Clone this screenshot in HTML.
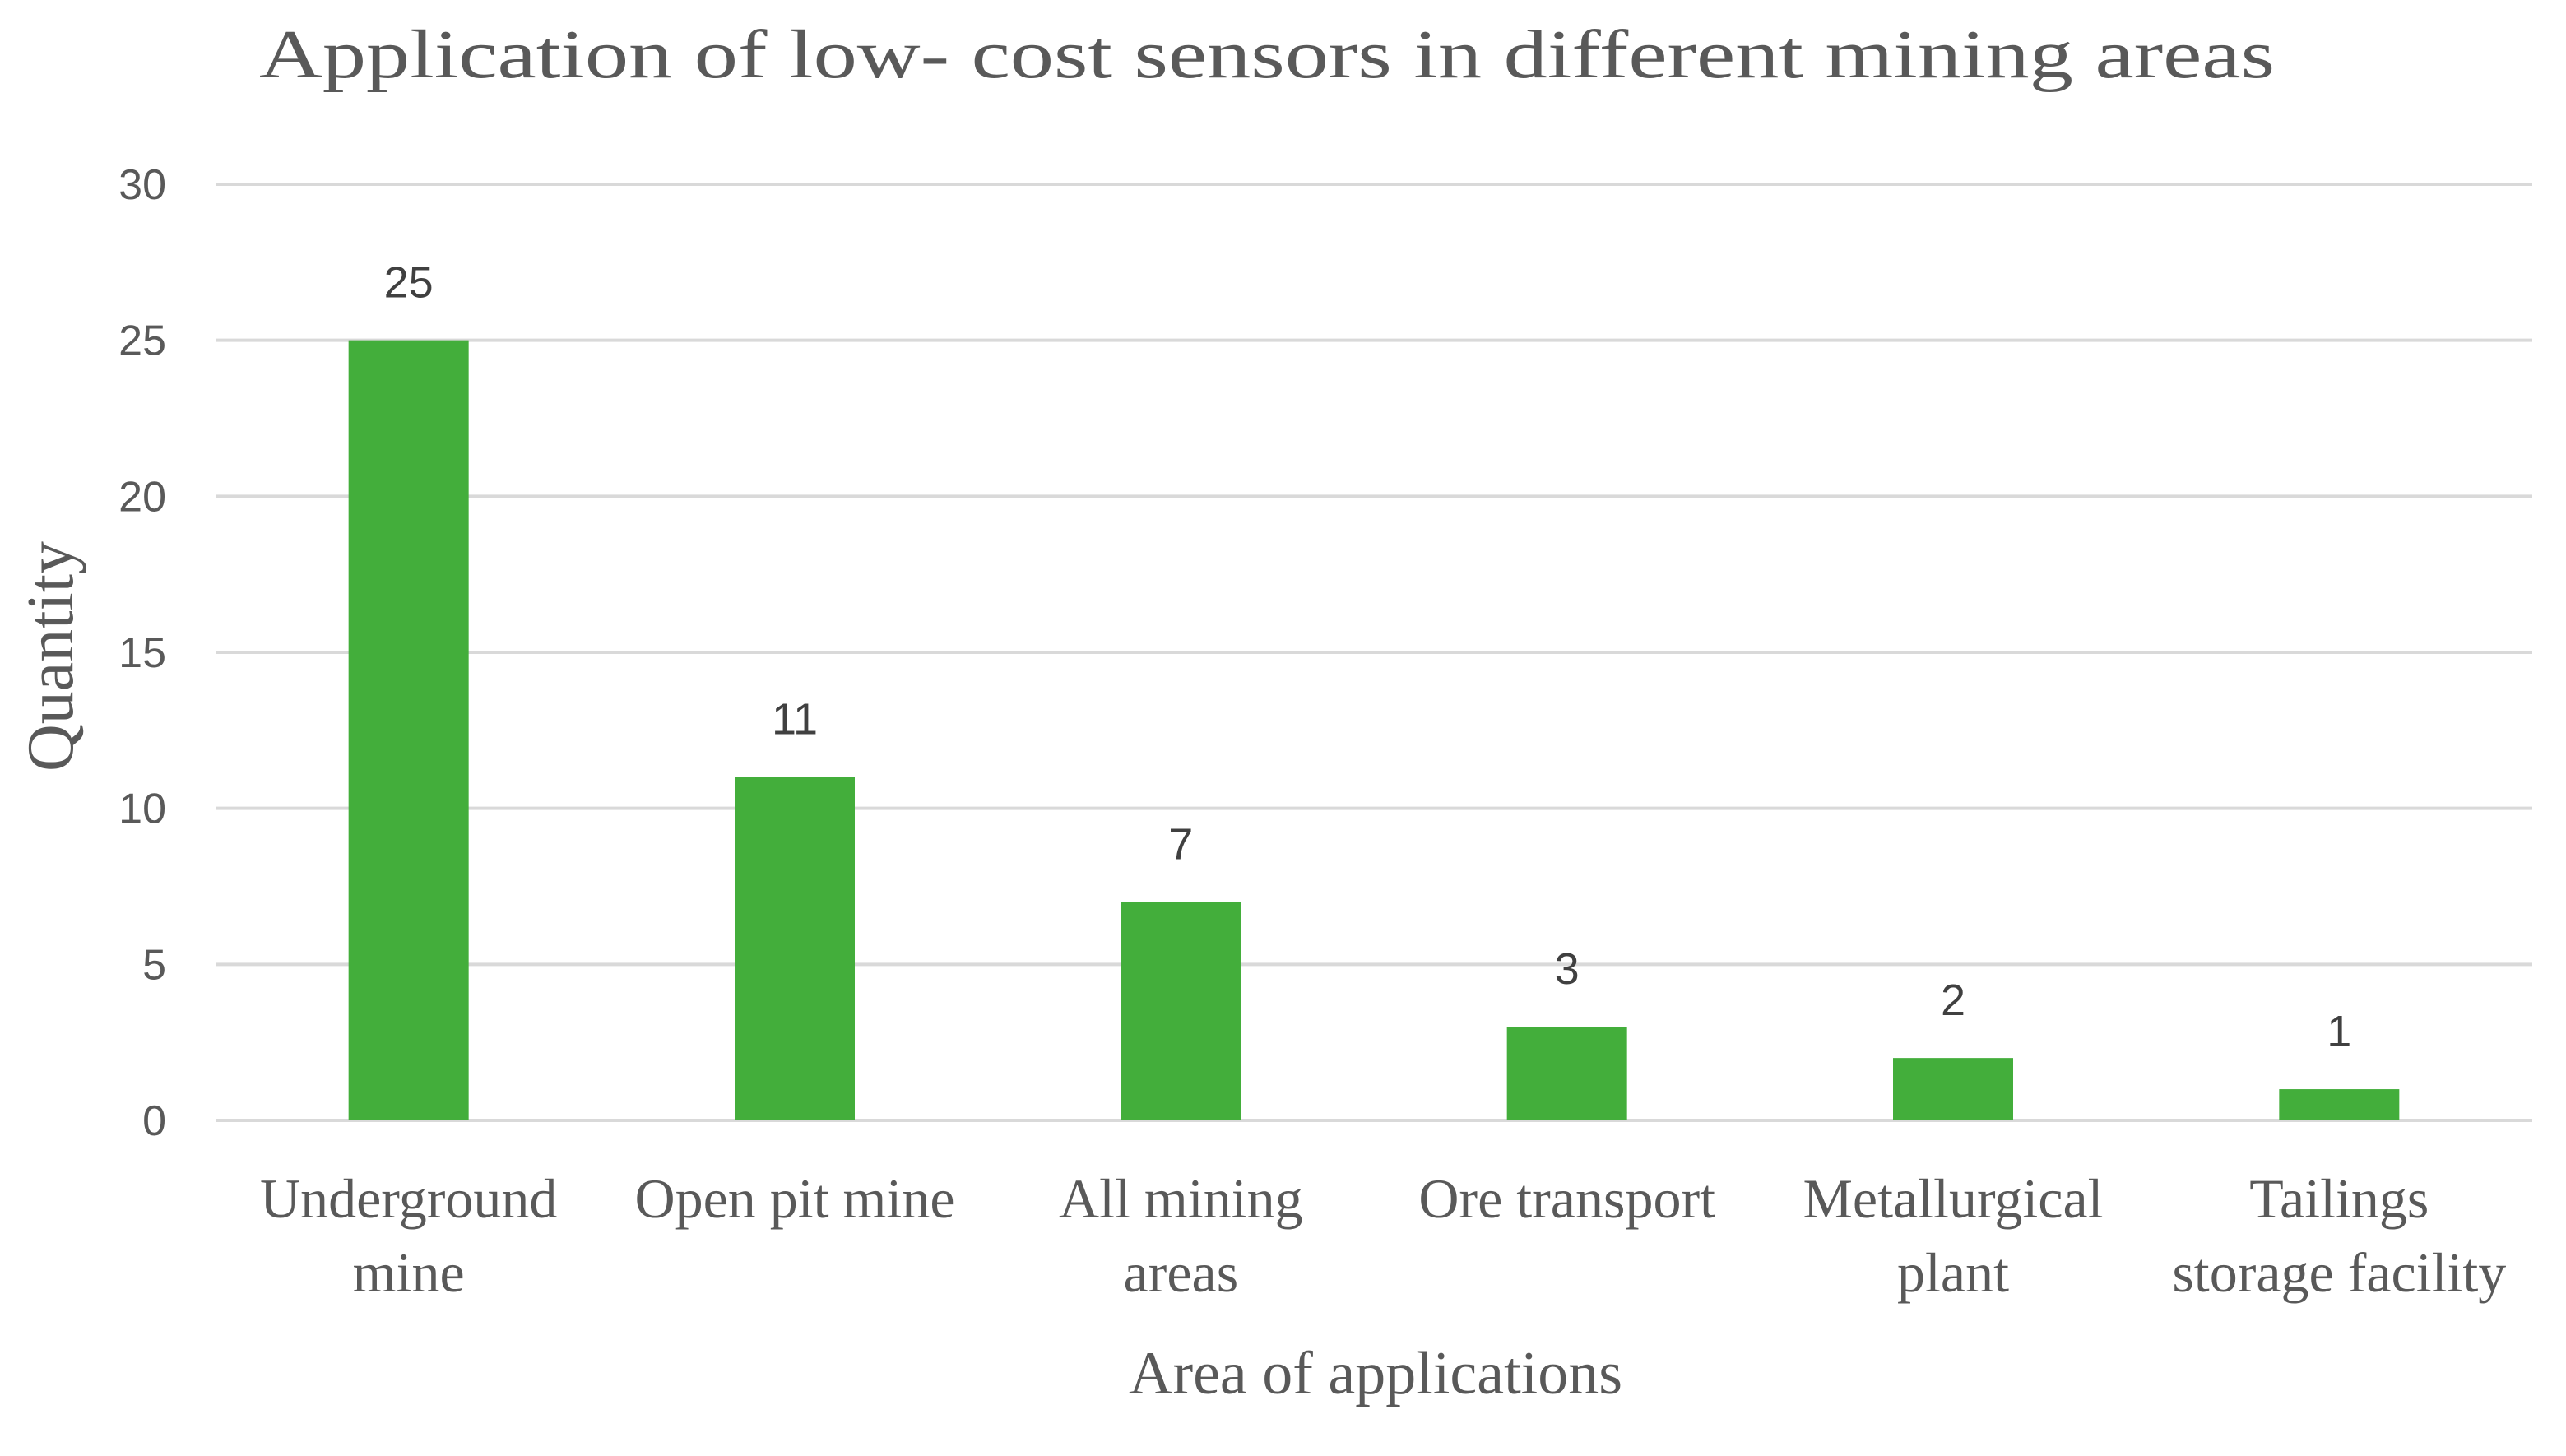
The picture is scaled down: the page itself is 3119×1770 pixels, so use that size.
<!DOCTYPE html>
<html><head><meta charset="utf-8"><style>
html,body{margin:0;padding:0;background:#fff;}
svg{display:block;}
</style></head><body>
<svg id="chart" width="3119" height="1770" viewBox="0 0 3119 1770" xmlns="http://www.w3.org/2000/svg">
<rect width="3119" height="1770" fill="#fff"/>
<text x="1540" y="94" text-anchor="middle" font-family="Liberation Serif, serif" font-size="84" fill="#595959" textLength="2450" lengthAdjust="spacingAndGlyphs">Application  of low-  cost sensors  in different  mining areas</text>
<g id="grid"></g>
<g id="yticks"></g>
<g id="bars"></g>
<g id="vals"></g>
<g id="cats"></g>
<text x="62" y="798" transform="rotate(-90 62 798)" text-anchor="middle" dominant-baseline="central" font-family="Liberation Serif, serif" font-size="80" fill="#595959">Quantity</text>
<text x="1672" y="1694" text-anchor="middle" font-family="Liberation Serif, serif" font-size="74" fill="#595959">Area of applications</text>
</svg>
<script>
const categories = [["Underground","mine"],["Open pit mine"],["All mining","areas"],["Ore transport"],["Metallurgical","plant"],["Tailings","storage facility"]];
const values = [25, 11, 7, 3, 2, 1];
const yTicks = [0, 5, 10, 15, 20, 25, 30];

const NS = "http://www.w3.org/2000/svg";
const left = 262, right = 3078, y0 = 1362, y30 = 224;
const yMax = 30;
function yScale(v){ return y0 - (v / yMax) * (y0 - y30); }
const band = (right - left) / categories.length;
function xCenter(i){ return left + band * (i + 0.5); }
const barW = 146;
function mk(tag, attrs, parent){ const e = document.createElementNS(NS, tag); for (const k in attrs) e.setAttribute(k, attrs[k]); parent.appendChild(e); return e; }

const grid = document.getElementById('grid'), yt = document.getElementById('yticks');
yTicks.forEach(t => {
  const l = mk('line', {x1:left, x2:right, y1:yScale(t), y2:yScale(t), stroke:'#d9d9d9', 'stroke-width':4}, grid);
  
  
  const tx = mk('text', {x:202, y:yScale(t)+18, 'text-anchor':'end', 'font-family':'Liberation Sans, sans-serif', 'font-size':52, fill:'#595959'}, yt);
  tx.textContent = String(t);
  
  
});

const bars = document.getElementById('bars'), vals = document.getElementById('vals'), cats = document.getElementById('cats');
values.forEach((v, i) => {
  const cx = xCenter(i);
  const r = mk('rect', {x:cx-barW/2, y:yScale(v), width:barW, height:y0-yScale(v), fill:'#43ae3b'}, bars);
  
  
  const t = mk('text', {x:cx, y:yScale(v)-52, 'text-anchor':'middle', 'font-family':'Liberation Sans, sans-serif', 'font-size':54, fill:'#404040'}, vals);
  t.textContent = String(v);
  
  
  categories[i].forEach((line, j) => {
    const c = mk('text', {x:cx, y:1480 + j*90, 'text-anchor':'middle', 'font-family':'Liberation Serif, serif', 'font-size':68, fill:'#595959'}, cats);
    c.textContent = line;
    
    
  });
});
</script>
</body></html>
